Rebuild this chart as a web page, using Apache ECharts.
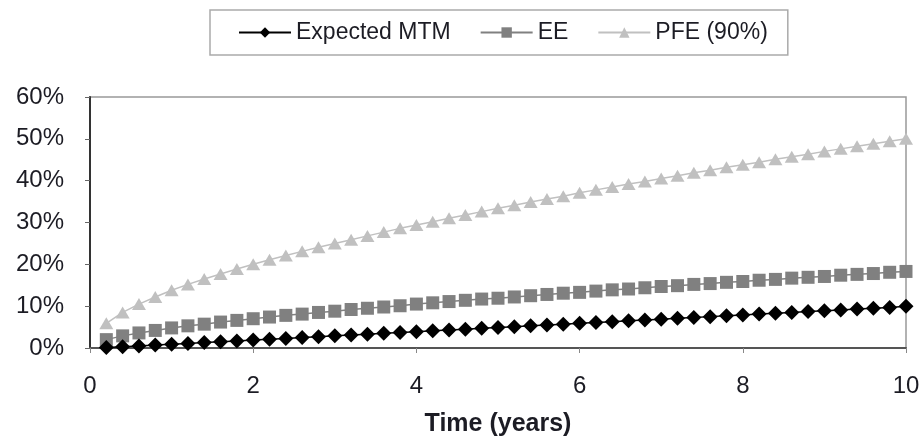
<!DOCTYPE html>
<html>
<head>
<meta charset="utf-8">
<script src="https://cdn.jsdelivr.net/npm/echarts@6/dist/echarts.min.js"></script>
<style>html,body{margin:0;padding:0;background:#fff}#c{width:922px;height:438px}</style>
</head>
<body>
<div id="c"></div>
<script>
var times = [0.2,0.4,0.6,0.8,1.0,1.2,1.4,1.6,1.8,2.0,2.2,2.4,2.6,2.8,3.0,3.2,3.4,3.6,3.8,4.0,4.2,4.4,4.6,4.8,5.0,5.2,5.4,5.6,5.8,6.0,6.2,6.4,6.6,6.8,7.0,7.2,7.4,7.6,7.8,8.0,8.2,8.4,8.6,8.8,9.0,9.2,9.4,9.6,9.8,10.0];
var expectedMTM = [0.1,0.3,0.5,0.7,0.9,1.1,1.3,1.5,1.7,1.9,2.1,2.3,2.5,2.7,2.9,3.1,3.3,3.5,3.7,3.9,4.1,4.3,4.5,4.7,4.9,5.1,5.3,5.5,5.7,5.9,6.1,6.3,6.5,6.7,6.9,7.1,7.3,7.5,7.7,7.9,8.1,8.3,8.5,8.7,8.9,9.1,9.3,9.5,9.7,10.0];
var ee = [2.0,2.9,3.6,4.2,4.8,5.3,5.7,6.2,6.6,7.0,7.4,7.8,8.1,8.5,8.8,9.2,9.5,9.8,10.1,10.5,10.8,11.1,11.4,11.7,11.9,12.2,12.5,12.8,13.1,13.3,13.6,13.9,14.1,14.4,14.7,14.9,15.2,15.4,15.7,15.9,16.2,16.4,16.7,16.9,17.1,17.4,17.6,17.8,18.1,18.3];
var pfe = [5.9,8.5,10.5,12.2,13.8,15.2,16.5,17.7,18.9,20.0,21.1,22.1,23.1,24.1,25.0,25.9,26.8,27.7,28.6,29.4,30.2,31.0,31.8,32.6,33.4,34.1,34.9,35.6,36.3,37.1,37.8,38.5,39.2,39.8,40.5,41.2,41.9,42.5,43.2,43.8,44.4,45.1,45.7,46.3,47.0,47.6,48.2,48.8,49.4,50.0];
var seriesNames = ['Expected MTM','EE','PFE (90%)'];
var xTitle = 'Time (years)';

function pairs(v){ return times.map(function(t,i){ return [t, v[i]]; }); }
var font = 'Liberation Sans, Arial, sans-serif';
var txt = '#1c1c24';
var chart = echarts.init(document.getElementById('c'), null, {renderer:'canvas'});
chart.setOption({
  animation:false,
  backgroundColor:'#fff',
  legend:{
    left:210, top:10,
    padding:[11,20,11,28],
    itemGap:29,
    itemWidth:52, itemHeight:13,
    borderColor:'#aaa', borderWidth:1.5,
    textStyle:{fontFamily:font, fontSize:23, color:txt},
    data:seriesNames
  },
  grid:{left:90, right:16, top:97, bottom:90, show:true, borderColor:'#999', borderWidth:1.5,
        containLabel:false, outerBoundsMode:'none'},
  xAxis:{
    type:'value', min:0, max:10, interval:2,
    name:xTitle, nameLocation:'middle', nameGap:64,
    nameTextStyle:{fontFamily:font, fontSize:25, fontWeight:'bold', color:txt},
    axisLine:{lineStyle:{color:'#555', width:2}},
    axisTick:{show:true, length:5, lineStyle:{color:'#888'}},
    axisLabel:{fontFamily:font, fontSize:24, color:txt, margin:26},
    splitLine:{show:false}
  },
  yAxis:{
    type:'value', min:0, max:60, interval:10,
    axisLine:{show:true, lineStyle:{color:'#333', width:2}},
    axisTick:{show:true, length:5, lineStyle:{color:'#666'}},
    axisLabel:{fontFamily:font, fontSize:24, color:txt, margin:26, formatter:'{value}%'},
    splitLine:{show:false}
  },
  series:[
    {name:seriesNames[0], type:'line', data:pairs(expectedMTM), symbol:'diamond', symbolSize:[15,15],
     itemStyle:{color:'#000'}, lineStyle:{color:'#000', width:1.5}, z:4},
    {name:seriesNames[1], type:'line', data:pairs(ee), symbol:'rect', symbolSize:13,
     itemStyle:{color:'#808080'}, lineStyle:{color:'#808080', width:1.5}, z:3},
    {name:seriesNames[2], type:'line', data:pairs(pfe), symbol:'triangle', symbolSize:[14,12],
     itemStyle:{color:'#c0c0c0'}, lineStyle:{color:'#c0c0c0', width:1.5}, z:2}
  ]
});
</script>
</body>
</html>
